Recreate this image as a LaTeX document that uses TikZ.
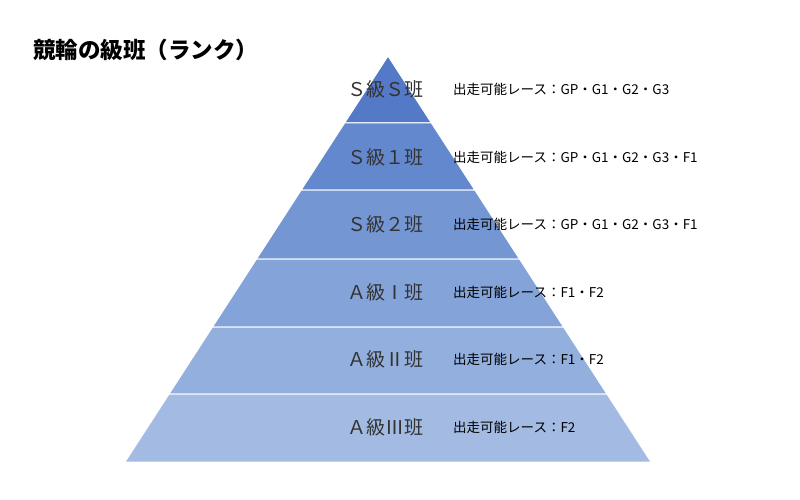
\documentclass[tikz,border=0pt]{standalone}
\usepackage{fontspec}
\setmainfont{Noto Sans CJK JP}
\definecolor{b1}{HTML}{5479C6}
\definecolor{b2}{HTML}{6388CD}
\definecolor{b3}{HTML}{7497D3}
\definecolor{b4}{HTML}{84A3D8}
\definecolor{b5}{HTML}{93AFDD}
\definecolor{b6}{HTML}{A3BBE2}
\begin{document}
\begin{tikzpicture}[x=1pt,y=-1pt,
  lab/.style={font=\fontsize{19}{19}\selectfont, text=black!80},
  info/.style={font=\fontsize{13.5}{13.5}\selectfont, anchor=west, text=black, inner sep=0pt}]
\useasboundingbox (0,0) rectangle (800,500);
\def\hw#1{((#1-56)/406*263)}
\foreach \ya/\yb/\c in {56/123/b1,123/190/b2,190/259/b3,259/327/b4,327/394/b5,394/462/b6}{
  \fill[\c, draw=white, line width=1pt] ({388-\hw{\ya}},\ya) -- ({388+\hw{\ya}},\ya) -- ({388+\hw{\yb}},\yb) -- ({388-\hw{\yb}},\yb) -- cycle;
}
\node[anchor=west, inner sep=0pt, font=\bfseries\fontsize{22.5}{22.5}\selectfont] (title) at (33,50) {競輪の級班（ランク）};
\foreach \y/\a/\b [count=\i] in {89/ＳＳ級Ｓ班/GP・G1・G2・G3, 157/Ｓ級１班/GP・G1・G2・G3・F1, 224/Ｓ級２班/GP・G1・G2・G3・F1, 292/Ａ級Ⅰ班/F1・F2, 359/Ａ級Ⅱ班/F1・F2, 427/Ａ級Ⅲ班/F2}{
  \node[lab] (l\i) at (385,\y) {\ifnum\i=1 Ｓ級Ｓ班\else\a\fi};
  \node[info] (r\i) at (453,\y) {出走可能レース：\b};
}
\end{tikzpicture}
\end{document}
